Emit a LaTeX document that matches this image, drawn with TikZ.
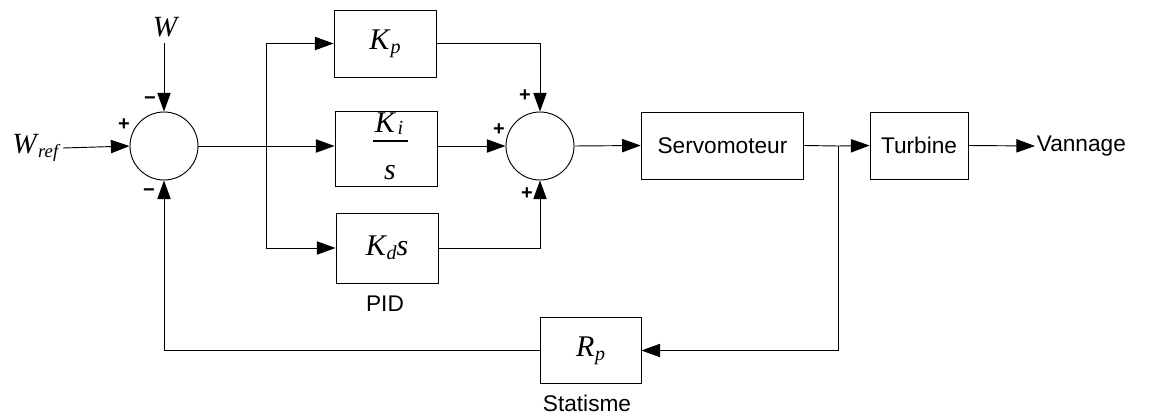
\documentclass[tikz,border=0pt]{standalone}
\usepackage{fontspec}
\setmainfont{Liberation Sans}
\newfontfamily\tms{Liberation Serif}
\usetikzlibrary{arrows.meta}
\newcommand\mvar[1]{{\tms\itshape\fontsize{22.5}{24}\selectfont #1}}
\newcommand\bigvar[1]{{\tms\itshape\fontsize{22}{24}\selectfont #1}}
\newcommand\msub[1]{\raisebox{-0.6ex}{\tms\itshape\fontsize{15}{16}\selectfont #1}}
\begin{document}
\begin{tikzpicture}[x=0.75pt,y=-0.75pt,
  blk/.style={draw,line width=0.7pt,inner sep=0pt,minimum width=76.5pt},
  sumc/.style={draw,circle,line width=0.7pt,minimum size=51pt,inner sep=0pt},
  arr/.style={-{Triangle[length=14pt,width=10pt]}},
  lbl/.style={inner sep=1pt,font=\fontsize{17}{20}\selectfont},
  sgn/.style={inner sep=0pt,font=\bfseries\fontsize{15}{16}\selectfont},
  line width=0.7pt]
\useasboundingbox (0,0) rectangle (1168,418);
% summing junctions
\node[sumc] (sum1) at (164,146) {};
\node[sumc] (sum2) at (540,146) {};
% inputs
\node[inner sep=0pt] (W) at (165,27) {\bigvar{W}};
\coordinate (Wtop) at (164,43);
\node[inner sep=1pt,anchor=east] (Wref) at (60,148) {\bigvar{W}\kern1pt\msub{\fontsize{14}{16}\selectfont ref}};
% PID blocks
\node[blk,minimum height=50.25pt] (kp) at (385,43.5) {\mvar{K}\kern1pt\msub{p}};
\node[blk,minimum height=56.25pt] (ki) at (386,148.5) {};
\node[inner sep=0pt] (kinum) at (389,124) {\mvar{K}\kern2pt\raisebox{-0.3ex}{\tms\itshape\fontsize{15}{16}\selectfont i}};
\node[inner sep=0pt] (kiden) at (390,173) {\mvar{s}};
\draw[line width=0.8pt] (373,141) -- (408,141);
\node[blk,minimum height=52.5pt] (kd) at (387,248) {\mvar{K}\kern0.5pt\msub{d}\mvar{s}};
\node[lbl] (pid) at (385,304) {PID};
% forward path
\node[blk,minimum width=122pt,minimum height=50.25pt] (servo) at (722.5,145.5) {\fontsize{17}{20}\selectfont Servomoteur};
\node[blk,minimum width=73.5pt,minimum height=50.25pt] (turb) at (919,145.5) {\fontsize{17}{20}\selectfont Turbine};
\node[lbl,anchor=west] (vann) at (1035,146) {Vannage};
% feedback
\node[blk,minimum width=75.75pt,minimum height=50pt] (rp) at (590.5,350.5) {\mvar{R}\kern0.5pt\msub{p}};
\node[lbl] (stat) at (587,403) {Statisme};
\coordinate (b) at (266,146);
\coordinate (j) at (838,146);
% connectors
\draw[arr] (Wtop) -- (sum1.north);
\draw[arr] (Wref.east) ++(3,0) -- (sum1.west);
\draw (sum1.east) -- (b);
\draw[arr] (b) -- (b -| ki.west);
\draw[arr] (b) |- (kp.west);
\draw[arr] (b) |- (kd.west);
\draw[arr] (kp.east) -| (sum2.north);
\draw[arr] (sum2.west -| ki.east) -- (sum2.west);
\draw[arr] (kd.east) -| (sum2.south);
\draw[arr] (sum2.east) -- (servo.west);
\draw (servo.east) -- (j);
\draw[arr] (j) -- (turb.west);
\draw[arr] (turb.east) -- (vann.west);
\draw[arr] (j) |- (rp.east);
\draw[arr] (rp.west) -| (sum1.south);
% signs
\node[sgn] at (124,125) {+};
\node[sgn] at (150,101) {\textminus};
\node[sgn] at (149,193) {\textminus};
\node[sgn] at (525,96) {+};
\node[sgn] at (499,130) {+};
\node[sgn] at (527,194) {+};
\end{tikzpicture}
\end{document}
